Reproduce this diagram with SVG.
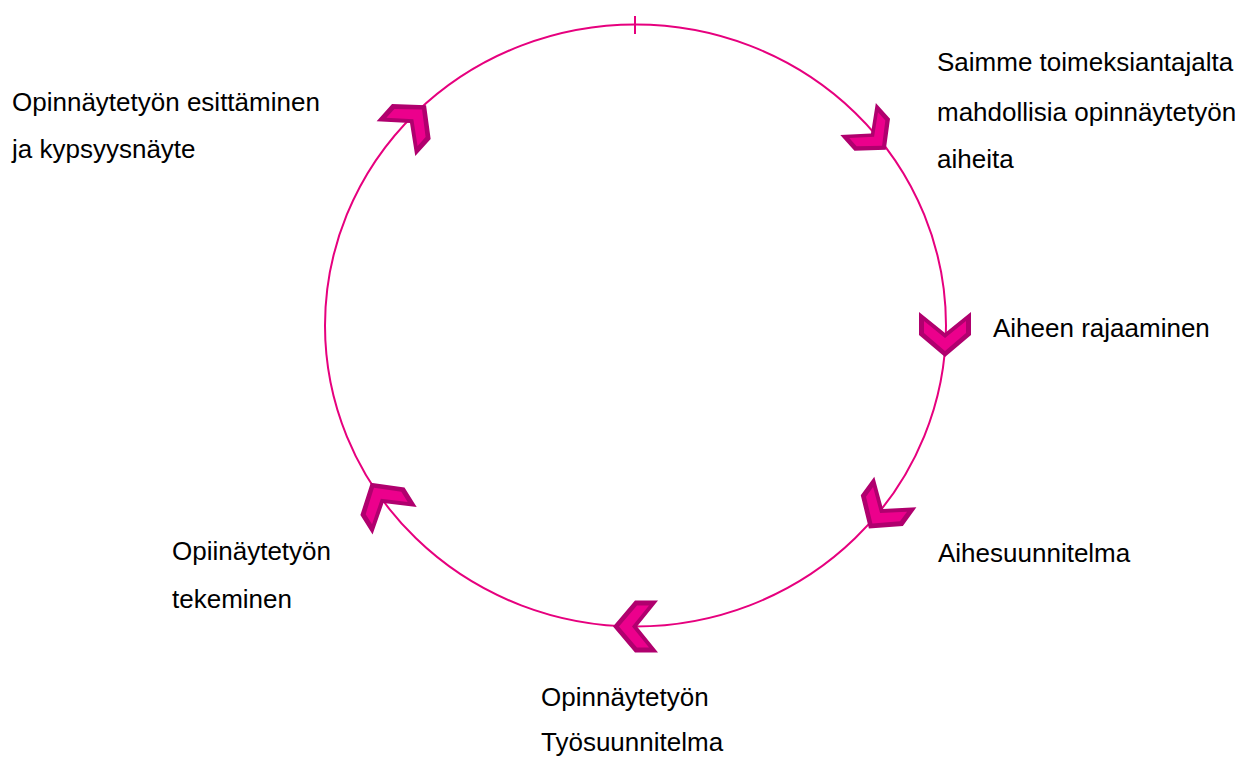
<svg xmlns="http://www.w3.org/2000/svg" xmlns:xlink="http://www.w3.org/1999/xlink" width="1248" height="758" viewBox="0 0 1248 758">
<style>
.ring{fill:none;stroke:#E6007E;stroke-width:2}
.co{fill:#B0006E}
.ci{fill:#EC008C}
.t{font-family:"Liberation Sans",Arial,sans-serif;font-size:26px;fill:#000}
</style>
<defs>
<g id="chev">
<polygon class="co" points="-26,-21 0,0 26,-21 26,2 0,24 -26,2"/>
<polygon class="ci" points="-21,-12 0,5 21,-12 21,0 0,18 -21,0"/>
</g>
</defs>
<rect width="1248" height="758" fill="#fff"/>
<g id="connectors">
<ellipse class="ring" cx="635.5" cy="325.5" rx="310.5" ry="301"/>
<line class="ring" x1="635" y1="16" x2="635" y2="34"/>
</g>
<g id="n1">
<use xlink:href="#chev" transform="translate(871,133.4) rotate(-42) scale(0.92)"/>
<text class="t" x="937" y="71">Saimme toimeksiantajalta</text>
<text class="t" x="937" y="121">mahdollisia opinnäytetyön</text>
<text class="t" x="937" y="168">aiheita</text>
</g>
<g id="n2">
<use xlink:href="#chev" transform="translate(945,333)"/>
<text class="t" x="993" y="337">Aiheen rajaaminen</text>
</g>
<g id="n3">
<use xlink:href="#chev" transform="translate(883,509) rotate(36)"/>
<text class="t" x="938" y="562">Aihesuunnitelma</text>
</g>
<g id="n4">
<use xlink:href="#chev" transform="translate(637,626.5) rotate(90)"/>
<text class="t" x="541" y="706">Opinnäytetyön</text>
<text class="t" x="541" y="751">Työsuunnitelma</text>
</g>
<g id="n5">
<use xlink:href="#chev" transform="translate(383.5,503) rotate(148)"/>
<text class="t" x="172" y="560">Opiinäytetyön</text>
<text class="t" x="172" y="608">tekeminen</text>
</g>
<g id="n6">
<use xlink:href="#chev" transform="translate(410,123) rotate(222)"/>
<text class="t" x="12" y="111">Opinnäytetyön esittäminen</text>
<text class="t" x="12" y="158">ja kypsyysnäyte</text>
</g>
</svg>
